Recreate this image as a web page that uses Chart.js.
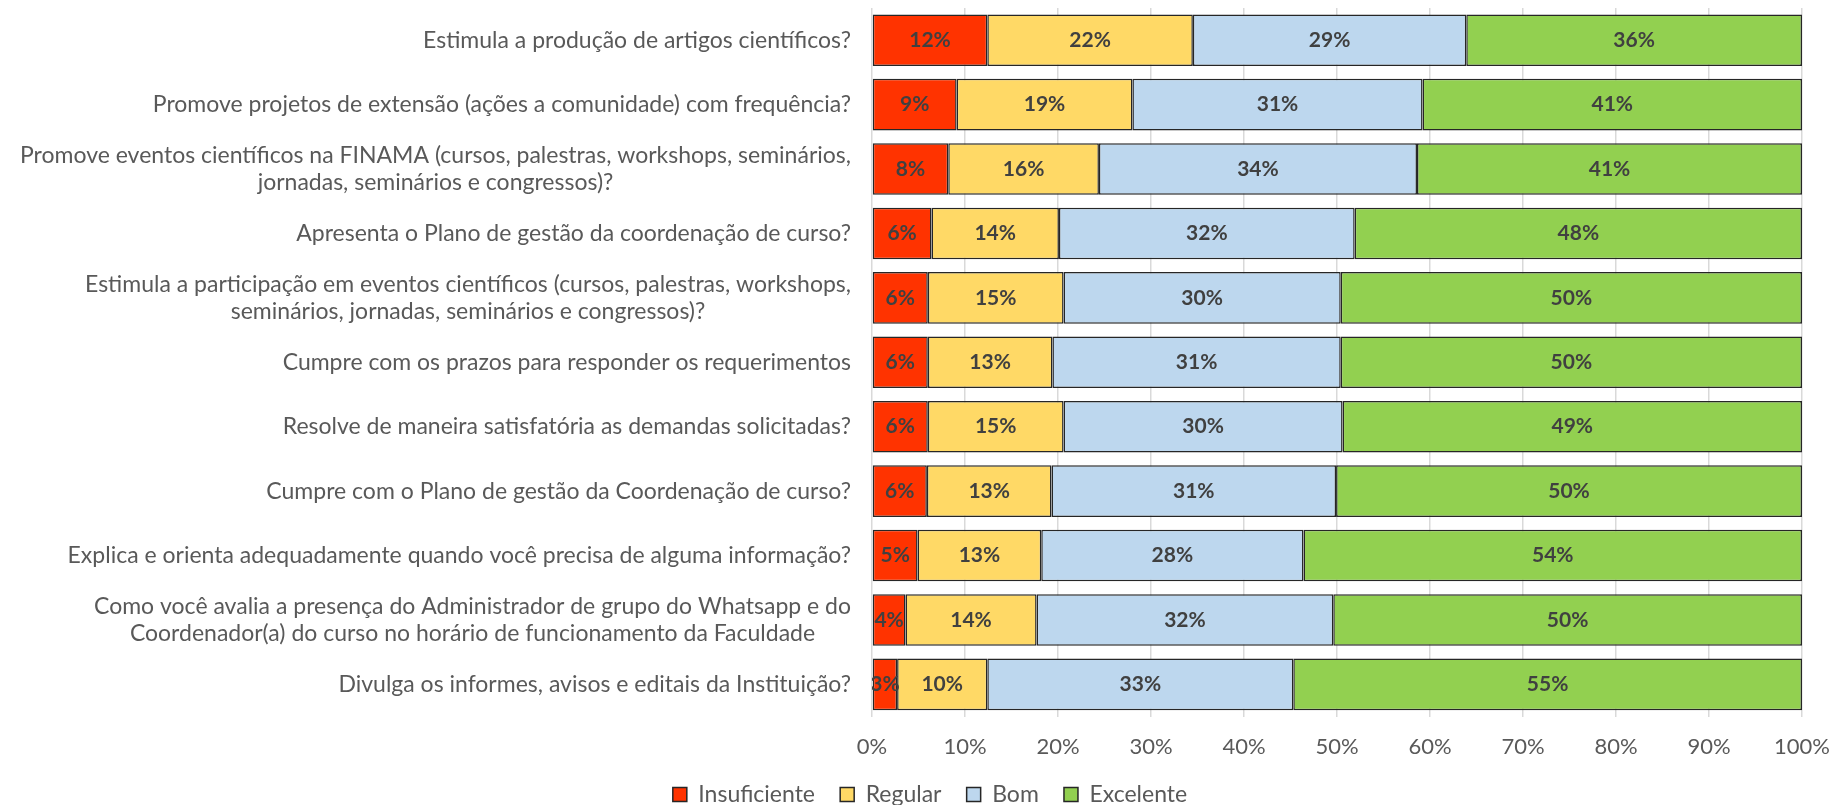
<!DOCTYPE html>
<html>
<head>
<meta charset="utf-8">
<script src="https://cdn.jsdelivr.net/npm/chart.js@4"></script>
<style>
  body { margin: 0; background: #fff; }
  #wrap { width: 1836px; height: 805px; }
</style>
</head>
<body>
<div id="wrap"><canvas id="myChart"></canvas></div>
<script>
var categories = [
    'Estimula a produção de artigos científicos?',
    'Promove projetos de extensão (ações a comunidade) com frequência?',
    ['Promove eventos científicos na FINAMA (cursos, palestras, workshops, seminários,', 'jornadas, seminários e congressos)?'],
    'Apresenta o Plano de gestão da coordenação de curso?',
    ['Estimula a participação em eventos científicos (cursos, palestras, workshops,', 'seminários, jornadas, seminários e congressos)?'],
    'Cumpre com os prazos para responder os requerimentos',
    'Resolve de maneira satisfatória as demandas solicitadas?',
    'Cumpre com o Plano de gestão da Coordenação de curso?',
    'Explica e orienta adequadamente quando você precisa de alguma informação?',
    ['Como você avalia a presença do Administrador de grupo do Whatsapp e do', 'Coordenador(a) do curso no horário de funcionamento da Faculdade'],
    'Divulga os informes, avisos e editais da Instituição?'
];

var insuficiente = [12.4, 9.1, 8.2, 6.4, 6.0, 6.0, 6.0, 5.9, 4.9, 3.6, 2.7];
var regular      = [22.1, 18.9, 16.2, 13.7, 14.6, 13.4, 14.6, 13.4, 13.3, 14.1, 9.7];
var bom          = [29.4, 31.2, 34.2, 31.8, 29.8, 31.0, 30.0, 30.6, 28.2, 31.9, 32.9];
var excelente    = [36.1, 40.8, 41.4, 48.1, 49.6, 49.6, 49.4, 50.1, 53.6, 50.4, 54.7];

var xTicks = [0, 10, 20, 30, 40, 50, 60, 70, 80, 90, 100];

var FONT = 'Lato';

// question labels: single lines sit against the axis, wrapped lines are centred on each other
var yLabels = {
    id: 'yLabels',
    afterDraw: function(chart){
        var ctx = chart.ctx;
        var scale = chart.scales.y;
        ctx.save();
        ctx.font = '23px ' + FONT;
        ctx.fillStyle = '#595959';
        ctx.textAlign = 'center';
        ctx.textBaseline = 'middle';
        categories.forEach(function(lab, i){
            var lines = Array.isArray(lab) ? lab : [lab];
            var w = Math.max.apply(null, lines.map(function(l){ return ctx.measureText(l).width; }));
            var cx = chart.chartArea.left - 21 - w / 2;
            var yc = scale.getPixelForTick(i);
            lines.forEach(function(l, k){
                ctx.fillText(l, cx, yc + (k - (lines.length - 1) / 2) * 27);
            });
        });
        ctx.restore();
    }
};

// percentage inside each segment
var barValues = {
    id: 'barValues',
    afterDatasetsDraw: function(chart){
        var ctx = chart.ctx;
        var area = chart.chartArea;
        ctx.save();
        ctx.beginPath();
        ctx.rect(area.left, area.top, area.right - area.left, area.bottom - area.top);
        ctx.clip();
        ctx.font = 'bold 21px ' + FONT;
        ctx.fillStyle = '#404040';
        ctx.textAlign = 'center';
        ctx.textBaseline = 'middle';
        chart.data.datasets.forEach(function(ds, d){
            chart.getDatasetMeta(d).data.forEach(function(bar, i){
                ctx.fillText(Math.round(ds.data[i]) + '%', (bar.x + bar.base) / 2, bar.y);
            });
        });
        ctx.restore();
    }
};

function makeSet(label, values, color){
    return {
        label: label,
        data: values,
        backgroundColor: color,
        borderColor: '#262626',
        borderWidth: 1.5,
        borderSkipped: false,
        categoryPercentage: 1,
        barPercentage: 0.8
    };
}

var ctx = document.getElementById('myChart').getContext('2d');
var myChart = new Chart(ctx, {
    type: 'bar',
    data: {
        labels: categories,
        datasets: [
            makeSet('Insuficiente', insuficiente, '#FF3300'),
            makeSet('Regular', regular, '#FFD966'),
            makeSet('Bom', bom, '#BDD7EE'),
            makeSet('Excelente', excelente, '#92D050')
        ]
    },
    options: {
        indexAxis: 'y',
        responsive: true,
        maintainAspectRatio: false,
        animation: false,
        layout: { padding: { left: 24, right: 0, top: 8, bottom: -11 } },
        scales: {
            x: {
                stacked: true,
                min: 0,
                max: 100,
                afterBuildTicks: function(scale){
                    scale.ticks = xTicks.map(function(v){ return { value: v }; });
                },
                afterFit: function(scale){ scale.paddingRight = 34; },
                grid: { color: '#d9d9d9', lineWidth: 1.5, drawTicks: false },
                border: { display: false },
                ticks: {
                    padding: 17,
                    color: '#595959',
                    font: { family: FONT, size: 22 },
                    callback: function(v){ return v + '%'; }
                }
            },
            y: {
                stacked: true,
                grid: { display: false },
                border: { display: false },
                ticks: { display: false },
                afterFit: function(scale){ scale.width = 872 - 24; }
            }
        },
        plugins: {
            legend: {
                position: 'bottom',
                labels: {
                    color: '#595959',
                    font: { family: FONT, size: 23 },
                    boxWidth: 14,
                    boxHeight: 14,
                    padding: 6,
                    // small row padding, so the gap between items comes from trailing space
                    generateLabels: function(chart){
                        var items = Chart.defaults.plugins.legend.labels.generateLabels(chart);
                        items.forEach(function(it, i){
                            if (i < items.length - 1) it.text = it.text + '\u2002\u2004';
                        });
                        return items;
                    }
                }
            },
            tooltip: { enabled: false }
        }
    },
    plugins: [yLabels, barValues]
});
</script>
</body>
</html>
